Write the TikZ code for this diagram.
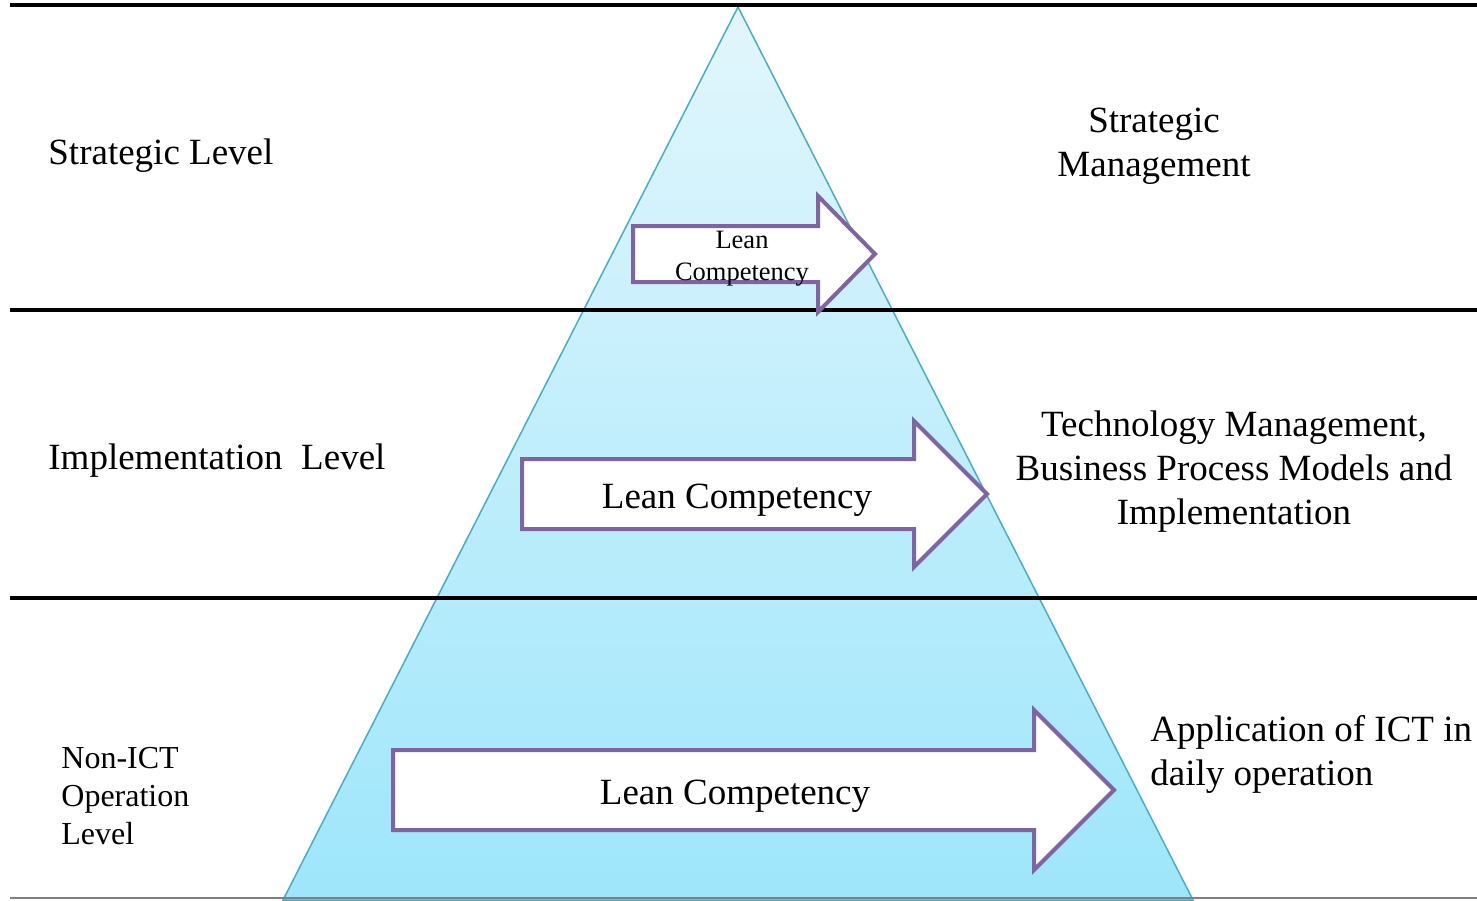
\documentclass[tikz,border=0pt]{standalone}
\usepackage{fontspec}
\setmainfont{Liberation Serif}
\usepackage{tikz}
\usetikzlibrary{
  calc,
  positioning,
}
\definecolor{aqua}{RGB}{75, 172, 198}
\definecolor{aquatop}{RGB}{226, 246, 252}
\definecolor{aquabottom}{RGB}{158, 230, 251}
\definecolor{lavender}{RGB}{128, 100, 162}
\tikzstyle{levelline} = [
  line width=2pt,
  black,
]
\tikzstyle{leanarrow} = [
  line width=2pt,
  lavender,
  fill=white,
  line join=miter,
]
\tikzstyle{label} = [
  inner sep=0pt,
  font=\fontsize{18.5}{22}\selectfont,
]

\begin{document}
\begin{tikzpicture}[x=0.5pt, y=-0.5pt]

        \useasboundingbox (0,0) rectangle (1477,900);

        \shade [top color=aquatop, bottom color=aquabottom, draw=aqua, line width=0.75pt]
              (738,7) -- (1193,900) -- (283,900) -- cycle;

        \draw [gray, line width=0.6pt] (10,898) -- (1477,898);

        \foreach \y in {5,310,598} {
          \draw [levelline] (10,\y) -- (1477,\y);
        }

        \draw [leanarrow] (633,226) -- (818,226) -- (818,196) -- (875,254)
              -- (818,312) -- (818,282) -- (633,282) -- cycle;

        \draw [leanarrow] (522,459) -- (914,459) -- (914,421) -- (987,494)
              -- (914,567) -- (914,529) -- (522,529) -- cycle;

        \draw [leanarrow] (393,750) -- (1034,750) -- (1034,710) -- (1114,790)
              -- (1034,870) -- (1034,830) -- (393,830) -- cycle;

        \node (leantop) [label, align=center, font=\fontsize{13.25}{16}\selectfont]
              at (742,259) {Lean\\Competency};
        \node (leanmid) [label] at (737,500) {Lean Competency};
        \node (leanbot) [label] at (735,796) {Lean Competency};

        \node (strategic) [label, anchor=west] at (48,156) {Strategic Level};
        \node (implement) [label, anchor=west] at (48,461) {Implementation~~Level};
        \node (nonict) [label, anchor=west, align=left, font=\fontsize{16}{19}\selectfont]
              at (61,796) {Non-ICT\\Operation\\Level};

        \node (stratmgmt) [label, align=center] at (1154,146) {Strategic\\Management};
        \node (techmgmt) [label, align=center] at (1234,472)
              {Technology Management,\\Business Process Models and\\Implementation};
        \node (ictuse) [label, anchor=west, align=left] at (1150,754)
              {Application of ICT in\\daily operation};

      \end{tikzpicture}
\end{document}
